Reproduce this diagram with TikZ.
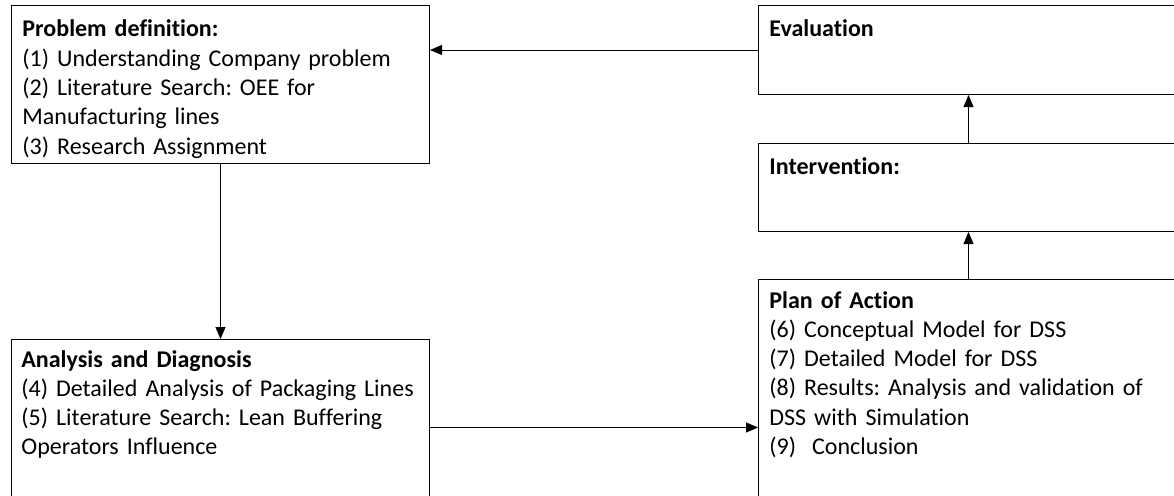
\documentclass[tikz,border=0pt]{standalone}
\usepackage{fontspec}
\setmainfont{Carlito}[Ligatures=NoCommon]
\usetikzlibrary{arrows.meta,positioning}

\begin{document}
\frenchspacing
\begin{tikzpicture}[
            x=1pt, y=-1pt,
            >={Triangle[length=12pt,width=10pt]},
            stagebox/.style={draw, line width=1pt, inner sep=0pt, anchor=north west,
                minimum width=420pt},
            stagetext/.style={inner sep=0pt, anchor=base west, align=left, text width=410pt,
                font=\fontsize{24}{29.3}\selectfont},
            every path/.style={line width=0.9pt}
        ]
        \useasboundingbox (0,0) rectangle (1174,495);
        \node[stagebox, minimum width=418pt, minimum height=158pt] (probdef) at (11,5) {};
        \node[stagebox, minimum width=418pt, minimum height=176pt] (analysis) at (11,339) {};
        \node[stagebox, minimum height=89pt] (eval) at (758,5) {};
        \node[stagebox, minimum height=88pt] (interv) at (758,143) {};
        \node[stagebox, minimum height=240pt] (plan) at (758,279) {};

        \node[stagetext, xshift=11pt, yshift=-32pt] (probdeftext) at (probdef.north west)
            {\textbf{Problem definition:}\\(1) Understanding Company problem\\(2) Literature Search: OEE for\\Manufacturing lines\\(3) Research Assignment};
        \node[stagetext, xshift=10pt, yshift=-28pt] (analysistext) at (analysis.north west)
            {\textbf{Analysis and Diagnosis}\\(4) Detailed Analysis of Packaging Lines\\(5) Literature Search: Lean Buffering\\Operators Influence};
        \node[stagetext, xshift=11pt, yshift=-32pt] (evaltext) at (eval.north west) {\textbf{Evaluation}};
        \node[stagetext, xshift=11pt, yshift=-31pt] (intervtext) at (interv.north west) {\textbf{Intervention:}};
        \node[stagetext, xshift=11pt, yshift=-29pt] (plantext) at (plan.north west)
            {\textbf{Plan of Action}\\(6) Conceptual Model for DSS\\(7) Detailed Model for DSS\\(8) Results: Analysis and validation of\\DSS with Simulation\\(9)\ \ Conclusion};

        \draw[->] (eval.west) -- (eval.west -| probdef.east);
        \draw[->] (probdef.south) -- (analysis.north);
        \draw[->] (analysis.east) -- (analysis.east -| plan.west);
        \draw[->] (plan.north) -- (interv.south);
        \draw[->] (interv.north) -- (eval.south);
\end{tikzpicture}
\end{document}
